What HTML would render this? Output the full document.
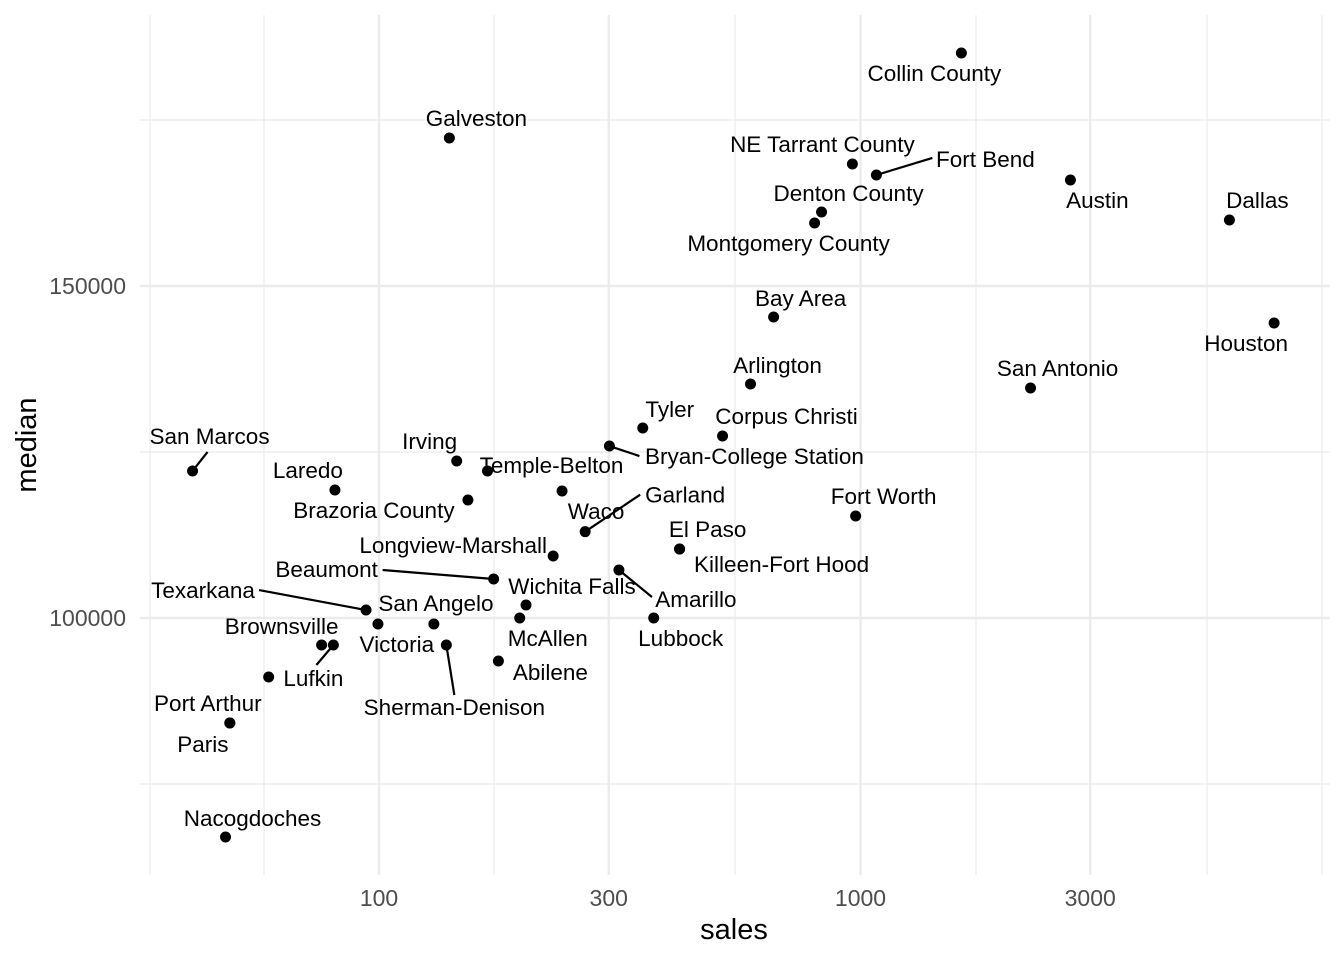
<!DOCTYPE html>
<html><head><meta charset="utf-8"><style>
html,body{margin:0;padding:0;background:#fff;}
svg{display:block;font-family:"Liberation Sans",sans-serif;}
</style></head><body>
<svg id="chart" width="1344" height="960" viewBox="0 0 1344 960" xmlns="http://www.w3.org/2000/svg">
<g id="grid"></g>
<g id="segs"></g>
<g id="pts"></g>
<g id="labels"></g>
<g id="axes"></g>
<text x="734" y="939" font-size="29" text-anchor="middle" fill="#000">sales</text>
<text transform="translate(36,445) rotate(-90)" font-size="29" text-anchor="middle" fill="#000">median</text>
</svg>
<script>
const cities = ["Collin County","Galveston","NE Tarrant County","Fort Bend","Austin","Dallas","Denton County","Montgomery County","Bay Area","Houston","Arlington","San Antonio","Tyler","Corpus Christi","Bryan-College Station","San Marcos","Irving","Temple-Belton","Laredo","Brazoria County","Waco","Garland","Fort Worth","El Paso","Killeen-Fort Hood","Longview-Marshall","Beaumont","Amarillo","Wichita Falls","Texarkana","San Angelo","Victoria","McAllen","Lubbock","Brownsville","Lufkin","Sherman-Denison","Abilene","Port Arthur","Paris","Nacogdoches",""];
const sales = [1620,140,962,1079,2729,5837,830,803,660,7228,591,2255,353,517,301,41,145,168,81,153,240,268,977,421,421,230,173,315,202,94,99.5,130,196,372,76,80.4,138,177,49,49,48,59];
const median = [185090,172290,168370,166720,165960,159940,161150,159490,145330,144430,135240,134640,128610,127410,125900,122140,123640,122140,119280,117770,119130,113000,115360,110390,110390,109340,105870,107230,101960,101200,99100,99100,100000,100000,95930,95930,95930,93520,84190,84190,67020,91110];
const xTicks = [100,300,1000,3000];
const yTicks = [100000,150000];
// label offsets (layout only)
const lab = [[-27,20],[27,-20],[-30,-20],[109,-16],[27,20],[28,-20],[27,-19],[-26,20],[27,-19],[-28,20],[27,-19],[27,-20],[27,-19],[64,-20],[145,10],[17,-35],[-27,-20],[64,-6],[-27,-20],[-94,10],[34,20],[100,-37],[28,-20],[28,-20],[102,15],[-100,-11],[-167,-10],[77,29],[46,-19],[-163,-20],[58,-21],[-37,20],[28,20],[27,20],[-40,-19],[-20,33],[8,62],[52,11],[-22,-20],[-27,21],[27,-19],[0,0]];
const seg = {3:[56,-17],14:[30,10],15:[15,-19],21:[55,-37],26:[-111,-9],27:[33,27],29:[-107,-20],35:[-17,20],36:[8,50]};
const X = v => 379 + (Math.log10(v) - 2) * 481.5;
const Y = v => 618 - (v - 100000) / 50000 * 332;
const NS = "http://www.w3.org/2000/svg";
function mk(p, t, a) { const e = document.createElementNS(NS, t); for (const k in a) e.setAttribute(k, a[k]); p.appendChild(e); return e; }
const L=140,R=1330,T=15,B=875;
const grid = document.getElementById('grid');
[150,264,494,735,976,1207,1322].forEach(x=>{const e=mk(grid,'line',{x1:x,x2:x,y1:T,y2:B,stroke:'#ebebeb','stroke-width':1.2});

});
[75000,125000,175000].forEach(v=>{const e=mk(grid,'line',{x1:L,x2:R,y1:Y(v),y2:Y(v),stroke:'#ebebeb','stroke-width':1.2});

});
const axes=document.getElementById('axes');
xTicks.forEach(v=>{const e=mk(grid,'line',{x1:X(v),x2:X(v),y1:T,y2:B,stroke:'#ebebeb','stroke-width':2.4});


const t=mk(axes,'text',{x:X(v),y:906,'font-size':23,'text-anchor':'middle',fill:'#4d4d4d'});t.textContent=v;

});
yTicks.forEach(v=>{const e=mk(grid,'line',{x1:L,x2:R,y1:Y(v),y2:Y(v),stroke:'#ebebeb','stroke-width':2.4});


const t=mk(axes,'text',{x:126,y:Y(v)+8,'font-size':23,'text-anchor':'end',fill:'#4d4d4d'});t.textContent=v;

});
const pts=document.getElementById('pts'),segs=document.getElementById('segs'),labs=document.getElementById('labels');
sales.forEach((s,i)=>{const x=X(s),y=Y(median[i]);
const c=mk(pts,'circle',{cx:x,cy:y,r:5.5,fill:'#000'});


if(seg[i]){const l=mk(segs,'line',{x1:x,y1:y,x2:x+seg[i][0],y2:y+seg[i][1],stroke:'#000','stroke-width':2.2});

}
if(cities[i]){const t=mk(labs,'text',{x:x+lab[i][0],y:y+lab[i][1]+8,'font-size':22.5,'text-anchor':'middle',fill:'#000'});t.textContent=cities[i];

}
});
</script>
</body></html>
